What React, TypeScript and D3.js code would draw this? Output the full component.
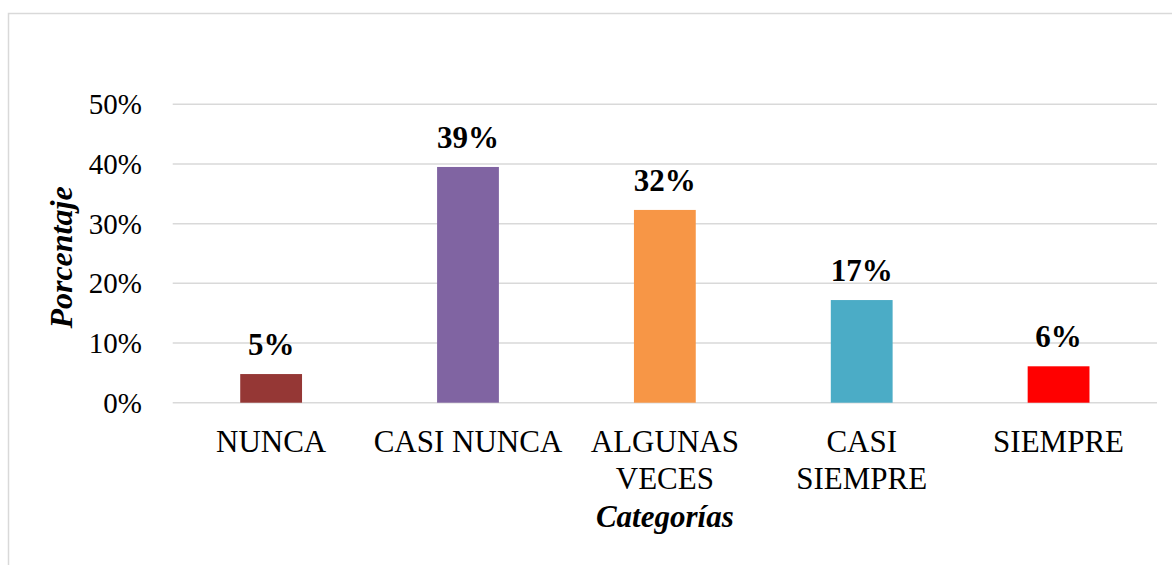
import { useEffect, useRef } from "react";
import * as d3 from "d3";

const categories = ["NUNCA", "CASI NUNCA", "ALGUNAS VECES", "CASI SIEMPRE", "SIEMPRE"];
const categoryLines = [["NUNCA"], ["CASI NUNCA"], ["ALGUNAS", "VECES"], ["CASI", "SIEMPRE"], ["SIEMPRE"]];
const values = [4.8, 39.5, 32.3, 17.2, 6.1];
const valueLabels = ["5%", "39%", "32%", "17%", "6%"];
const colors = ["#953735", "#8064A2", "#F79646", "#4BACC6", "#FF0000"];
const yTicks = [0, 10, 20, 30, 40, 50];

const W = 1172;
const H = 565;
const font = "'Liberation Serif', 'Times New Roman', serif";

const App = () => {
  const ref = useRef<SVGSVGElement>(null);

  useEffect(() => {
    document.body.style.margin = "0";
    const svg = d3.select(ref.current);
    svg.selectAll("*").remove();

    const x = d3.scaleBand<string>()
      .domain(categories)
      .range([172.7, 1157])
      .paddingInner(0.686)
      .paddingOuter(0.343);
    const y = d3.scaleLinear().domain([0, 50]).range([402.7, 104.3]);

    // outer frame
    svg.append("rect")
      .attr("x", 8.5).attr("y", 13.5)
      .attr("width", W + 20).attr("height", H + 20)
      .attr("fill", "none").attr("stroke", "#d9d9d9").attr("stroke-width", 1.5);

    // gridlines
    svg.append("g")
      .selectAll("line")
      .data(yTicks)
      .join("line")
      .attr("x1", 172.7).attr("x2", 1157)
      .attr("y1", d => y(d)).attr("y2", d => y(d))
      .attr("stroke", "#d9d9d9").attr("stroke-width", 1.5);

    // y tick labels
    svg.append("g")
      .selectAll("text")
      .data(yTicks)
      .join("text")
      .attr("x", 142)
      .attr("y", d => y(d) + 10)
      .attr("text-anchor", "end")
      .attr("font-family", font)
      .attr("font-size", 29)
      .text(d => d + "%");

    // bars
    svg.append("g")
      .selectAll("rect")
      .data(values)
      .join("rect")
      .attr("x", (d, i) => x(categories[i])!)
      .attr("y", d => y(d))
      .attr("width", x.bandwidth())
      .attr("height", d => y(0) - y(d))
      .attr("fill", (d, i) => colors[i]);

    // value labels
    svg.append("g")
      .selectAll("text")
      .data(values)
      .join("text")
      .attr("x", (d, i) => x(categories[i])! + x.bandwidth() / 2)
      .attr("y", d => y(d) - 19)
      .attr("text-anchor", "middle")
      .attr("font-family", font)
      .attr("font-weight", "bold")
      .attr("font-size", 31)
      .text((d, i) => valueLabels[i]);

    // category labels
    const cat = svg.append("g")
      .selectAll("text")
      .data(categories)
      .join("text")
      .attr("x", d => x(d)! + x.bandwidth() / 2)
      .attr("y", 452)
      .attr("text-anchor", "middle")
      .attr("font-family", font)
      .attr("font-size", 31);
    cat.selectAll("tspan")
      .data((d, i) => categoryLines[i])
      .join("tspan")
      .attr("x", function () { return (this.parentNode as SVGTextElement).getAttribute("x"); })
      .attr("dy", (d, i) => (i === 0 ? 0 : 36.5))
      .text(d => d);

    // axis titles
    svg.append("text")
      .attr("x", (172.7 + 1157) / 2)
      .attr("y", 527)
      .attr("text-anchor", "middle")
      .attr("font-family", font)
      .attr("font-weight", "bold")
      .attr("font-style", "italic")
      .attr("font-size", 31)
      .text("Categorías");

    svg.append("text")
      .attr("transform", "translate(72,257.5) rotate(-90)")
      .attr("text-anchor", "middle")
      .attr("font-family", font)
      .attr("font-weight", "bold")
      .attr("font-style", "italic")
      .attr("font-size", 32)
      .text("Porcentaje");
  }, []);

  return <svg ref={ref} width={W} height={H} style={{ display: "block", background: "#fff" }} />;
};

export default App;
